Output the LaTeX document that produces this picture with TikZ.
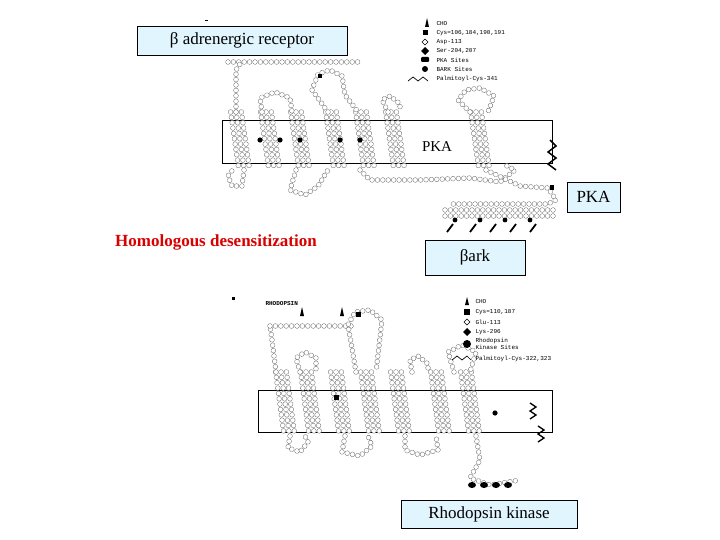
\documentclass[tikz,border=0pt]{standalone}
\usepackage{fontspec}
\setmainfont{Liberation Serif}
\newfontfamily\legfont{Liberation Mono}
\usetikzlibrary{decorations.markings}
\begin{document}
\begin{tikzpicture}[x=1pt,y=-1pt,
 beads/.style={decoration={markings, mark=between positions 0 and 1 step 5.4pt with {\draw[fill=white,line width=0.3pt,draw=gray!75!black] (0,0) circle (2.4pt);}}, decorate},
 lbox/.style={draw=black, fill=cyan!12, inner sep=3pt, font=\fontsize{17}{20}\selectfont},
 memb/.style={draw=black, line width=0.6pt},
 leg/.style={font=\legfont\fontsize{6}{7}\selectfont, anchor=west}]
\useasboundingbox (0,0) rectangle (720,540);
% ---------------- beta adrenergic receptor --------------
\draw[memb] (222,120) rectangle (552,163);
\foreach \x in {240,270,300,335,365,395,480}{
  \foreach \d in {-5.4,0,5.4}{ \path[beads] (\x+\d-4,112) -- (\x+\d+4,168); }}
\path[beads] (228,62) -- (360,62);
\path[beads] (236,112) -- (236,70) -- (240,64);
\path[beads] (262,112) -- (260,98) -- (275,92) -- (290,98) -- (292,112);
\path[beads] (328,112) -- (312,90) -- (318,74) -- (330,70) -- (342,76) -- (345,95) -- (358,112);
\path[beads] (388,112) -- (382,100) -- (390,96) -- (400,104) -- (400,112);
\path[beads] (470,112) -- (458,100) -- (466,90) -- (480,88) -- (494,96) -- (488,112);
\path[beads] (244,170) -- (242,186) -- (232,186) -- (228,176) -- (234,168);
\path[beads] (296,170) -- (290,190) -- (305,195) -- (318,186) -- (328,170);
\path[beads] (360,170) -- (370,180) -- (420,180) -- (470,178) -- (500,182) -- (515,170) -- (505,165);
\path[beads] (486,170) -- (520,186) -- (548,188) -- (556,200) -- (548,204) -- (450,204);
\path[beads] (445,210) -- (556,210);
\path[beads] (445,216) -- (556,216);
\draw[line width=1.5pt] (550,140) -- (556,146) -- (548,152) -- (556,158) -- (548,164) -- (556,170);
\fill (550,185) rectangle (554,190);
\fill (318,74) rectangle (322,78);
\foreach \x in {260,280,300,340,360}{\fill (\x,140) circle (2.6pt);}
\foreach \x in {447,470,490,510,530}{\draw[line width=1.8pt] (\x,232) -- (\x+6,224);}
\foreach \x in {455,480,505,530}{\fill (\x,220) circle (2.4pt);}
\fill (205,20) rectangle (208,21);
% legend top
\fill (425,27) -- (427,18) -- (429,27) -- cycle;
\node[leg] at (433,24) {CHO};
\fill (423,30) rectangle (428,35); \node[leg] at (433,33) {Cys=106,184,190,191};
\draw (425,39) -- (428,42) -- (425,45) -- (422,42) -- cycle; \node[leg] at (433,42) {Asp-113};
\fill (425,47) -- (429,51) -- (425,55) -- (421,51) -- cycle; \node[leg] at (433,51) {Ser-204,207};
\fill[rounded corners=1pt] (421,57) rectangle (429,62); \node[leg] at (433,60) {PKA Sites};
\fill (425,69) circle (3pt); \node[leg] at (433,69) {BARK Sites};
\draw[line width=0.7pt] (408,81) -- (413,77) -- (418,81) -- (423,77) -- (428,81); \node[leg] at (433,79) {Palmitoyl-Cys-341};
% ---------------- rhodopsin --------------
\draw[memb] (258,390) rectangle (552,432);
\foreach \x in {285,310,340,370,400,440,470}{
  \foreach \d in {-5.4,0,5.4}{ \path[beads] (\x+\d-4,372) -- (\x+\d+4,432); }}
\path[beads] (276,372) -- (272,340) -- (270,326);
\path[beads] (270,326) -- (355,326);
\path[beads] (300,372) -- (296,358) -- (305,352) -- (316,358) -- (316,372);
\path[beads] (356,372) -- (348,325) -- (355,312) -- (370,310) -- (382,320) -- (376,372);
\path[beads] (412,372) -- (410,360) -- (418,356) -- (428,364) -- (428,372);
\path[beads] (454,372) -- (448,352) -- (462,345) -- (476,352) -- (470,372);
\path[beads] (290,436) -- (288,448) -- (300,452) -- (308,442) -- (305,436);
\path[beads] (345,436) -- (342,452) -- (360,456) -- (372,446) -- (368,436);
\path[beads] (405,436) -- (405,450) -- (420,455) -- (438,450) -- (436,436);
\path[beads] (476,436) -- (480,460) -- (470,478) -- (490,485) -- (520,480);
\draw[line width=1.3pt] (530,403) -- (536,407) -- (530,411) -- (536,415) -- (530,419);
\draw[line width=1.3pt] (538,426) -- (544,430) -- (538,434) -- (544,438) -- (538,442);
\fill (356,312) rectangle (361,317);
\fill (334,395) rectangle (339,400);
\fill (495,413) circle (2.6pt);
\foreach \x in {472,484,496,508}{\fill (\x,485) ellipse (4pt and 3pt);}
\fill (300,316) -- (302,307) -- (304,316) -- cycle;
\fill (340,316) -- (342,307) -- (344,316) -- cycle;
\node[font=\legfont\bfseries\fontsize{6}{7}\selectfont, anchor=west] at (262,304) {RHODOPSIN};
\fill (232,297) rectangle (235,300);
% legend bottom
\fill (465,305) -- (467,297) -- (469,305) -- cycle; \node[leg] at (472,302) {CHO};
\fill (464,309) rectangle (470,315); \node[leg] at (472,312) {Cys=110,187};
\draw (467,319) -- (470,322) -- (467,325) -- (464,322) -- cycle; \node[leg] at (472,322) {Glu-113};
\fill (467,328) -- (471,332) -- (467,336) -- (463,332) -- cycle; \node[leg] at (472,332) {Lys-296};
\fill (467,344) circle (4pt); \node[leg, align=left] at (472,344) {Rhodopsin\\Kinase Sites};
\draw[line width=0.7pt] (452,360) -- (457,356) -- (462,360) -- (467,356) -- (471,360); \node[leg] at (472,359) {Palmitoyl-Cys-322,323};
% ---------------- labels --------------
\node[lbox, minimum width=210pt, minimum height=29pt] (bar) at (242,40.5) {β adrenergic receptor};
\node[font=\fontsize{15}{18}\selectfont] (pka1) at (437,147) {PKA};
\node[lbox, minimum width=53pt, minimum height=30pt] (pka2) at (593.5,197) {PKA};
\node[text=red!85!black, font=\bfseries\fontsize{17}{20}\selectfont] (hd) at (216,242) {Homologous desensitization};
\node[lbox, minimum width=100pt, minimum height=35pt] (bark) at (475,257.5) {βark};
\node[lbox, minimum width=176pt, minimum height=28pt] (rk) at (489,514) {Rhodopsin kinase};
\end{tikzpicture}
\end{document}
